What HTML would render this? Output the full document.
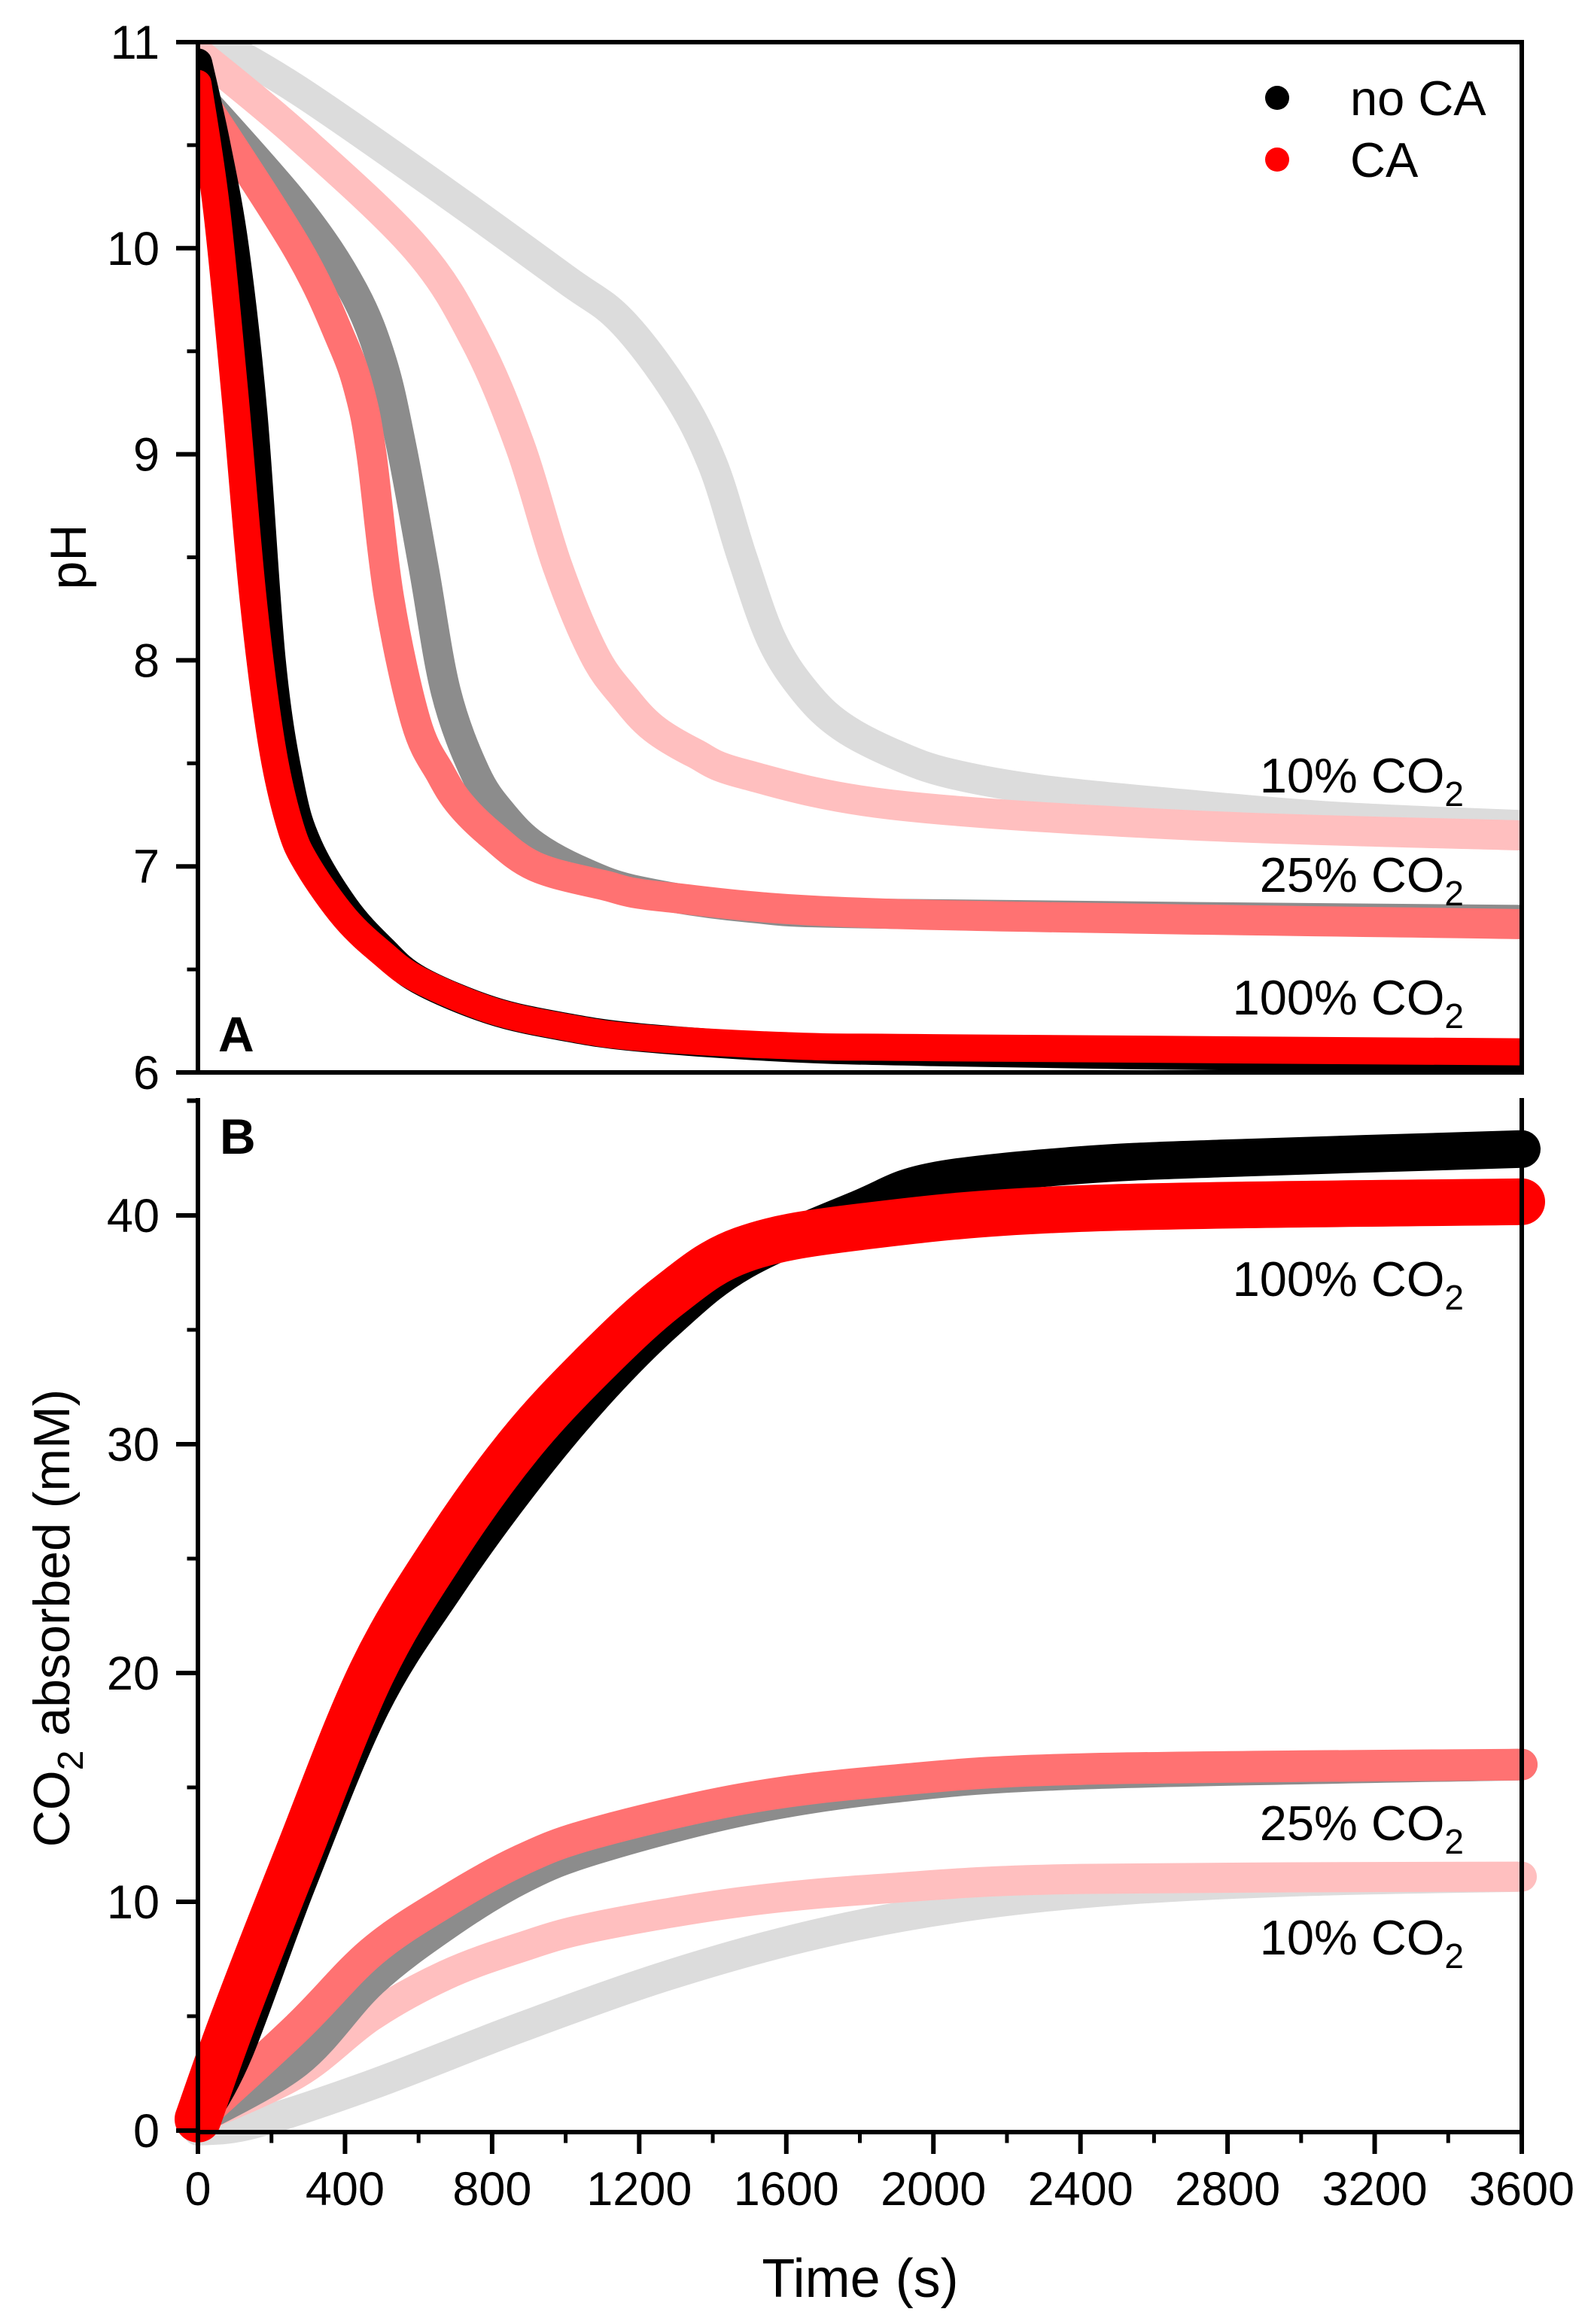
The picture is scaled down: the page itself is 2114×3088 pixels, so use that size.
<!DOCTYPE html>
<html><head><meta charset="utf-8"><style>
html,body{margin:0;padding:0;background:#fff;}
svg{display:block;font-family:"Liberation Sans",Arial,sans-serif;}
</style></head><body>
<svg id="chart" xmlns="http://www.w3.org/2000/svg" width="2114" height="3088" viewBox="0 0 2114 3088">
<g id="series-a"></g>
<g id="series-b"></g>
<g id="axes"></g>
<g font-size="65" fill="#000">
  <text x="1945" y="1053" text-anchor="end">10% CO<tspan font-size="46" dy="18">2</tspan></text>
  <text x="1945" y="1185" text-anchor="end">25% CO<tspan font-size="46" dy="18">2</tspan></text>
  <text x="1945" y="1348" text-anchor="end">100% CO<tspan font-size="46" dy="18">2</tspan></text>
  <text x="1945" y="1722" text-anchor="end">100% CO<tspan font-size="46" dy="18">2</tspan></text>
  <text x="1945" y="2445" text-anchor="end">25% CO<tspan font-size="46" dy="18">2</tspan></text>
  <text x="1945" y="2597" text-anchor="end">10% CO<tspan font-size="46" dy="18">2</tspan></text>
  <text x="290" y="1397" font-size="66" font-weight="bold">A</text>
  <text x="292" y="1533" font-size="66" font-weight="bold">B</text>
  <circle cx="1697" cy="130" r="16" fill="#000"/>
  <text x="1794" y="153" font-size="65">no CA</text>
  <circle cx="1697" cy="212" r="16" fill="#ff0000"/>
  <text x="1794" y="235" font-size="65">CA</text>
  <text transform="translate(114,740) rotate(-90)" text-anchor="middle" font-size="68">pH</text>
  <text transform="translate(92,2150) rotate(-90)" text-anchor="middle" font-size="68">CO<tspan font-size="48" dy="18">2</tspan><tspan dy="-18"> absorbed (mM)</tspan></text>
  <text x="1143" y="3052" text-anchor="middle" font-size="72">Time (s)</text>
</g>
</svg>
<script>
// Panel A: pH
const tA10no = [0,270,674,1000,1150,1300,1400,1480,1560,1650,1750,1900,2047,2300,2692,3100,3600];
const pA10no = [11.05,10.77,10.27,9.85,9.65,9.3,8.95,8.5,8.1,7.85,7.68,7.54,7.45,7.37,7.3,7.24,7.2];
const tA10ca = [0,270,593,755,876,977,1077,1160,1239,1350,1481,1885,2692,3600];
const pA10ca = [10.95,10.55,10.0,9.55,9.04,8.46,8.03,7.82,7.67,7.55,7.45,7.3,7.2,7.15];
const tA25no = [0,270,420,500,553,613,674,755,830,916,1050,1200,1500,1885,3600];
const pA25no = [10.75,10.2,9.8,9.45,9.04,8.46,7.85,7.45,7.25,7.1,6.97,6.88,6.8,6.77,6.74];
const tA25ca = [0,270,391,440,472,520,593,660,714,800,916,1100,1280,1885,3600];
const pA25ca = [10.75,10.0,9.55,9.3,9.0,8.3,7.7,7.45,7.3,7.15,7.0,6.91,6.85,6.77,6.72];
const tA100no = [0,50,100,150,200,250,300,400,500,600,800,1000,1200,1600,2000,2800,3600];
const pA100no = [10.9,10.5,10.0,9.2,8.0,7.4,7.1,6.8,6.6,6.45,6.3,6.22,6.17,6.12,6.1,6.08,6.08];
const tA100ca = [0,50,100,150,200,250,300,400,500,600,800,1000,1200,1600,2000,3600];
const pA100ca = [10.8,10.2,9.3,8.3,7.6,7.2,7.0,6.75,6.58,6.45,6.3,6.22,6.17,6.13,6.12,6.1];
// Panel B: CO2 absorbed (mM)
const tB10no = [0,150,472,876,1281,1685,2088,2500,3000,3600];
const cB10no = [0,0.3,2,4.5,6.8,8.6,9.8,10.5,10.9,11.1];
const tB10ca = [0,270,472,674,876,1077,1481,1885,2400,3600];
const cB10ca = [0.5,2.5,5,6.8,8,8.9,10,10.6,11,11.1];
const tB25no = [0,270,472,674,876,1077,1481,1885,2400,3600];
const cB25no = [0.5,3,6.5,9,11,12.3,14,15,15.6,16];
const tB25ca = [0,270,472,674,876,1077,1481,1885,2400,3600];
const cB25ca = [0.5,4.5,7.8,10,11.8,13,14.5,15.3,15.8,16];
const tB100no = [0,100,270,472,674,876,1077,1281,1481,1800,2000,2400,2800,3600];
const cB100no = [0.5,3.5,10.8,18.6,23.8,28.3,32.2,35.5,38,40.3,41.5,42.2,42.5,42.9];
const tB100ca = [0,100,270,472,674,876,1077,1281,1481,1800,2400,3600];
const cB100ca = [0.5,5,12,20,25.5,30,33.5,36.5,38.5,39.5,40.3,40.6];
const xTicks = [0,400,800,1200,1600,2000,2400,2800,3200,3600];
const yTicksA = [6,7,8,9,10,11];
const yTicksB = [0,10,20,30,40];

const NS='http://www.w3.org/2000/svg';
const L=263,R=2022,AT=56,AB=1425,BT=1462,BB=2833;
const x=t=>L+(R-L)*t/3600;
const yA=p=>AB-(p-6)*(AB-AT)/5;
const yB=c=>2831-c*30.4;
function mk(tag,parent){const e=document.createElementNS(NS,tag);parent.appendChild(e);return e;}
function smoothPath(P){
  let d='M'+P[0][0].toFixed(1)+','+P[0][1].toFixed(1);
  for(let i=0;i<P.length-1;i++){
    const p0=P[Math.max(0,i-1)],p1=P[i],p2=P[i+1],p3=P[Math.min(P.length-1,i+2)];
    const c1x=p1[0]+(p2[0]-p0[0])/6,c1y=p1[1]+(p2[1]-p0[1])/6;
    const c2x=p2[0]-(p3[0]-p1[0])/6,c2y=p2[1]-(p3[1]-p1[1])/6;
    d+=' C'+c1x.toFixed(1)+','+c1y.toFixed(1)+' '+c2x.toFixed(1)+','+c2y.toFixed(1)+' '+p2[0].toFixed(1)+','+p2[1].toFixed(1);
  }
  return d;
}
function series(g,ts,vs,ys,color,w,name){
  const p=mk('path',g);
  
  
  p.setAttribute('d',smoothPath(ts.map((t,i)=>[x(t),ys(vs[i])])));
  p.setAttribute('fill','none');p.setAttribute('stroke',color);p.setAttribute('stroke-width',w);
  p.setAttribute('stroke-linecap','round');p.setAttribute('stroke-linejoin','round');
}
const gA=document.getElementById('series-a');
const clipA=mk('clipPath',gA);clipA.id='ca';const cr=mk('rect',clipA);
cr.setAttribute('x',L);cr.setAttribute('y',AT);cr.setAttribute('width',R-L);cr.setAttribute('height',AB-AT);
gA.setAttribute('clip-path','url(#ca)');
series(gA,tA10no,pA10no,yA,'#dcdcdc',40,'ph-10-no-ca');
series(gA,tA10ca,pA10ca,yA,'#ffbfbf',40,'ph-10-ca');
series(gA,tA25no,pA25no,yA,'#8c8c8c',40,'ph-25-no-ca');
series(gA,tA25ca,pA25ca,yA,'#ff7272',40,'ph-25-ca');
series(gA,tA100no,pA100no,yA,'#000',38,'ph-100-no-ca');
series(gA,tA100ca,pA100ca,yA,'#ff0000',36,'ph-100-ca');
const gB=document.getElementById('series-b');
series(gB,tB10no,cB10no,yB,'#dcdcdc',40,'co2-10-no-ca');
series(gB,tB10ca,cB10ca,yB,'#ffbfbf',40,'co2-10-ca');
series(gB,tB25no,cB25no,yB,'#8c8c8c',42,'co2-25-no-ca');
series(gB,tB25ca,cB25ca,yB,'#ff7272',42,'co2-25-ca');
series(gB,tB100no,cB100no,yB,'#000',50,'co2-100-no-ca');
series(gB,tB100ca,cB100ca,yB,'#ff0000',62,'co2-100-ca');

const ax=document.getElementById('axes');
function line(x1,y1,x2,y2,w,name){const l=mk('line',ax);
  
  
  l.setAttribute('x1',x1);l.setAttribute('y1',y1);l.setAttribute('x2',x2);l.setAttribute('y2',y2);
  l.setAttribute('stroke','#000');l.setAttribute('stroke-width',w);l.setAttribute('stroke-linecap','square');}
function txt(s,px,py,anchor,name){const t=mk('text',ax);
  
  
  t.setAttribute('x',px);t.setAttribute('y',py);t.setAttribute('text-anchor',anchor);t.setAttribute('font-size','63');t.textContent=s;}
line(L,AT,R,AT,6,'panel-a-top-axis');line(R,AT,R,AB,6,'panel-a-right-axis');
line(L,AT,L,AB,6,'panel-a-y-axis');line(L,AB,R,AB,6,'panel-a-x-axis');
yTicksA.forEach(v=>{line(L-26,yA(v),L,yA(v),6,'panel-a-y-tick');txt(String(v),212,yA(v)+22,'end','panel-a-y-tick-label');
  if(v<11){line(L-12,yA(v+0.5),L,yA(v+0.5),5,'panel-a-y-minor-tick');}});
line(L,BT,L,BB,6,'panel-b-y-axis');line(L,BB,R,BB,6,'panel-b-x-axis');line(R,BT,R,BB,6,'panel-b-right-axis');
line(L-12,BT,L,BT,5,'panel-b-y-minor-tick');
yTicksB.forEach(v=>{line(L-26,yB(v),L,yB(v),6,'panel-b-y-tick');txt(String(v),212,yB(v)+22,'end','panel-b-y-tick-label');
  line(L-12,yB(v+5),L,yB(v+5),5,'panel-b-y-minor-tick');});
xTicks.forEach((v,i)=>{line(x(v),BB,x(v),BB+26,6,'x-tick');txt(String(v),x(v),2930,'middle','x-tick-label');
  if(i<xTicks.length-1){line(x(v+200),BB,x(v+200),BB+12,5,'x-minor-tick');}});
</script>
</body></html>
